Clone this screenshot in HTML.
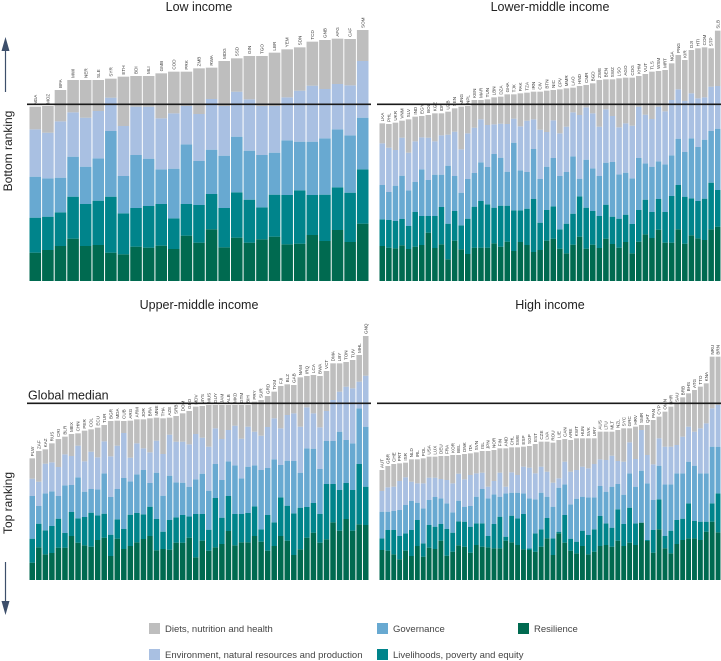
<!DOCTYPE html>
<html><head><meta charset="utf-8"><style>
body{margin:0;background:#fff;}
svg{display:block;font-family:"Liberation Sans",sans-serif;}
</style></head><body>
<svg id="chart" width="721" height="661" viewBox="0 0 721 661">
<g>
<line x1="5.5" y1="50" x2="5.5" y2="92" stroke="#3d4f6b" stroke-width="1.2"/>
<polygon points="5.5,37 1.5,51 9.5,51" fill="#3d4f6b"/>
<text x="0" y="0" transform="translate(12,151) rotate(-90)" text-anchor="middle" font-size="12" fill="#222">Bottom ranking</text>
</g>
<g>
<line x1="5.5" y1="562" x2="5.5" y2="602" stroke="#3d4f6b" stroke-width="1.2"/>
<polygon points="5.5,615 1.5,601 9.5,601" fill="#3d4f6b"/>
<text x="0" y="0" transform="translate(12,503) rotate(-90)" text-anchor="middle" font-size="12" fill="#222">Top ranking</text>
</g>
<g id="panels"></g>
<g font-size="9.5" fill="#444">
<rect x="149" y="623" width="11" height="11" fill="#bebebe"/>
<text x="165" y="632">Diets, nutrition and health</text>
<rect x="377" y="623" width="11" height="11" fill="#68a9d1"/>
<text x="393" y="632">Governance</text>
<rect x="518" y="623" width="11" height="11" fill="#006a50"/>
<text x="534" y="632">Resilience</text>
<rect x="149" y="649" width="11" height="11" fill="#a9c0e2"/>
<text x="165" y="658">Environment, natural resources and production</text>
<rect x="377" y="649" width="11" height="11" fill="#00848b"/>
<text x="393" y="658">Livelihoods, poverty and equity</text>
</g>
</svg>
<script>
const globalMedian = 530;
const lowCountries = ["NGA","MOZ","BFA","MWI","NER","SLE","SYR","ETH","BDI","MLI","GMB","COD","PRK","ZMB","RWA","MDG","SSD","GIN","TGO","LBR","YEM","SDN","TCD","GNB","AFG","CAF","SOM"];
const lowResilience = [85,93,105,127,105,108,85,80,103,100,106,96,136,115,155,101,130,115,125,133,110,112,138,120,153,117,172];
const lowLivelihoods = [105,100,101,126,126,133,168,123,116,125,125,92,95,113,106,118,136,129,96,126,148,160,120,139,128,148,163];
const lowGovernance = [123,115,104,120,112,127,197,112,159,142,104,149,179,132,133,157,167,147,157,126,164,146,160,169,174,172,155];
const lowEnvironment = [142,137,169,133,147,142,100,150,145,156,153,166,115,141,152,149,135,154,147,140,129,153,168,148,136,150,170];
const lowDiets = [68,80,94,97,113,93,57,148,92,92,135,125,103,137,94,135,100,130,150,160,144,130,132,147,136,139,93];

const lmCountries = ["LKA","PHL","UKR","VNM","SLV","IND","EGY","BOL","KGZ","IDN","UZB","SEN","MNG","NPL","KEN","MAR","TUN","LBN","DZA","GHA","TJK","PAK","TZA","IRN","CIV","BTN","NIC","CPV","MMR","LAO","HND","CMR","BGD","ZWE","BEN","SWZ","LSO","AGO","COG","KHM","VUT","TLS","WSM","MRT","NGA","PNG","KIR","DJI","HTI","COM","STP","SLB"];
const lmResilience = [105,100,98,107,96,103,108,145,99,110,65,121,95,81,100,100,100,113,103,118,90,117,108,87,93,121,127,97,83,109,133,97,109,99,127,111,100,117,83,118,140,129,154,115,115,155,112,137,128,123,155,163];
const lmLivelihoods = [80,83,82,79,69,104,87,50,96,112,107,89,72,106,123,140,130,107,123,108,122,95,109,159,82,92,97,58,89,93,121,123,101,96,102,82,87,82,88,95,104,78,92,92,140,133,141,111,112,124,140,110];
const lmGovernance = [103,84,106,130,107,90,140,108,124,97,174,105,98,119,101,116,112,161,144,102,203,120,110,150,131,130,145,160,155,172,53,144,128,120,126,164,133,126,137,156,109,136,113,143,122,139,134,180,162,177,155,184];
const lmEnvironment = [125,133,107,114,113,122,96,127,100,118,93,133,130,137,136,129,126,89,102,143,72,132,154,89,148,104,113,128,136,132,191,157,165,148,160,138,141,148,158,154,146,143,164,159,166,148,153,135,146,127,133,128];
const lmDiets = [60,71,82,51,100,74,64,68,84,66,69,70,128,82,83,58,77,81,81,89,73,99,84,83,114,124,91,132,115,74,87,67,90,140,90,110,147,137,144,92,122,142,107,124,110,103,123,130,150,150,115,166];

const umCountries = ["PLW","ZAF","KAZ","RUS","CRI","BLR","MEX","CHN","PER","COL","ECU","TUR","BGR","MDA","CUB","ARG","ARM","JOR","BRA","MNE","THA","AZE","SRB","DOM","GEO","MDV","MYS","MUS","GUY","JAM","ALB","MKD","GTM","BIH","PRY","SUR","GRD","TKM","FJI","BLZ","GAB","NAM","IRQ","LCA","BWA","VCT","DMA","LBY","TON","TUV","MHL","GNQ"];
const umResilience = [52,98,77,81,97,97,132,112,104,100,120,127,72,124,93,102,113,123,132,89,93,91,112,112,127,68,118,88,98,108,147,104,113,113,132,115,88,102,132,118,75,92,127,142,112,122,173,148,183,148,167,165];
const umLivelihoods = [72,71,72,81,87,44,72,73,85,102,74,72,64,58,60,94,88,74,88,94,52,89,76,83,64,130,80,63,148,79,105,94,85,88,89,37,107,71,116,105,125,125,92,89,86,166,115,122,108,122,181,115];
const umGovernance = [128,53,111,104,68,143,81,123,76,71,78,121,113,91,153,100,116,133,71,139,108,133,105,97,89,104,121,117,102,113,104,146,107,139,123,178,141,189,97,135,157,105,176,163,135,129,129,175,129,140,167,180];
const umEnvironment = [52,73,89,87,87,93,87,95,91,112,96,96,122,130,135,71,93,65,92,96,125,123,122,123,127,136,108,132,107,123,94,119,119,120,101,103,123,123,110,137,143,138,123,106,125,90,123,120,160,165,80,153];
const umDiets = [61,92,43,57,84,53,66,37,92,67,89,49,106,75,36,111,72,87,102,69,107,51,77,85,100,82,95,125,70,102,75,62,101,65,90,107,93,80,127,92,85,148,94,115,154,120,110,85,74,85,80,119];

const hiCountries = ["AUT","GBR","CHE","PRT","ISR","NLD","IRL","POL","USA","LUX","DEU","FRA","KOR","BEL","DNK","ITA","SVN","ISL","JPN","NOR","FIN","AND","CHL","SWE","ESP","SGP","EST","CZE","LVA","ROU","LIE","CAN","ARE","KWT","HUN","SVK","URY","AUS","LTU","MLT","NZL","SYC","GRC","HRV","SMR","QAT","PAN","CYP","OMN","BHR","SAU","BRB","BHS","ATG","TTO","KNA","NRU","BRN"];
const hiResilience = [90,88,77,62,88,72,102,70,97,93,118,73,85,104,100,82,105,100,98,95,95,118,113,105,92,90,85,100,125,75,140,112,88,80,102,77,85,102,105,100,118,102,112,105,172,117,82,152,95,80,108,120,125,125,120,145,175,143];
const hiLivelihoods = [35,62,73,70,52,78,78,40,68,67,50,80,57,72,75,78,65,70,34,73,95,12,80,80,106,5,55,52,61,50,5,83,36,35,46,58,67,90,65,57,94,66,105,65,0,3,68,90,37,68,72,64,105,52,55,30,55,117];
const hiGovernance = [80,55,57,78,85,87,52,105,75,89,77,77,61,62,45,62,80,103,113,89,60,130,69,77,62,150,102,110,64,95,132,92,103,129,102,113,96,90,95,123,76,88,103,110,156,170,90,101,155,139,140,136,125,166,145,145,170,140];
const hiEnvironment = [62,73,73,87,83,58,58,75,67,58,58,70,87,81,82,93,70,49,35,40,72,20,61,53,80,92,78,78,75,72,28,68,98,86,90,87,100,80,95,93,69,99,93,83,122,85,107,82,113,113,85,110,105,102,135,150,115,125];
const hiDiets = [63,64,68,53,44,67,72,75,63,63,69,72,85,56,76,65,63,65,107,93,73,115,75,83,60,65,88,75,90,120,115,68,95,95,85,90,77,83,85,72,93,100,42,97,15,90,133,65,105,120,123,118,100,125,125,120,155,145];

const colors = ["#006a50","#00848b","#68a9d1","#a9c0e2","#bebebe"];
const segNames = ["resilience","livelihoods","governance","environment","diets"];
const NS = "http://www.w3.org/2000/svg";
const K = 1/3; // px per score unit

const panels = [
  {name:"low-income",title:"Low income",x0:29,x1:369,base:281,titleY:11,countries:lowCountries,series:[lowResilience,lowLivelihoods,lowGovernance,lowEnvironment,lowDiets]},
  {name:"lower-middle-income",title:"Lower-middle income",x0:379,x1:721,base:281,titleY:11,countries:lmCountries,series:[lmResilience,lmLivelihoods,lmGovernance,lmEnvironment,lmDiets]},
  {name:"upper-middle-income",title:"Upper-middle income",x0:29,x1:369,base:580,titleY:309,countries:umCountries,series:[umResilience,umLivelihoods,umGovernance,umEnvironment,umDiets]},
  {name:"high-income",title:"High income",x0:379,x1:721,base:580,titleY:309,countries:hiCountries,series:[hiResilience,hiLivelihoods,hiGovernance,hiEnvironment,hiDiets]}
];

function mk(tag, attrs){const e=document.createElementNS(NS,tag);for(const k in attrs)e.setAttribute(k,attrs[k]);return e;}
const root=document.getElementById("panels");
panels.forEach(p=>{
  const g=mk("g",{});
  
  
  root.appendChild(g);
  const n=p.countries.length;
  const step=(p.x1-p.x0)/n;
  const xPos=i=>p.x0+i*step;
  const yPos=v=>p.base-v*K;
  const t=mk("text",{x:(p.x0+p.x1)/2,y:p.titleY,"text-anchor":"middle","font-size":"12.5",fill:"#222"});
  t.textContent=p.title;
  
  
  g.appendChild(t);
  for(let i=0;i<n;i++){
    let cum=0;
    for(let s=0;s<5;s++){
      const v=p.series[s][i];
      const r=mk("rect",{x:xPos(i)+0.5,y:yPos(cum+v),width:Math.max(step-1,0.5),height:v*K,fill:colors[s]});
      
      
      g.appendChild(r);
      cum+=v;
    }
    const lx=xPos(i)+step/2+1.6, ly=yPos(cum)-2;
    const lab=mk("text",{x:0,y:0,transform:`translate(${lx},${ly}) rotate(-90)`,"font-size":"4.6",fill:"#444"});
    lab.textContent=p.countries[i];
    
    
    g.appendChild(lab);
  }
  const ml=mk("line",{x1:p.x0-2,x2:Math.min(p.x1+2,721),y1:yPos(globalMedian),y2:yPos(globalMedian),stroke:"#1a1a1a","stroke-width":"1.6"});
  
  
  g.appendChild(ml);
  if(p.name==="upper-middle-income"){
    const gm=mk("text",{x:28,y:yPos(globalMedian)-4,"font-size":"12.5",fill:"#222"});
    gm.textContent="Global median";
    
    
    g.appendChild(gm);
  }
});
</script>
</body></html>
